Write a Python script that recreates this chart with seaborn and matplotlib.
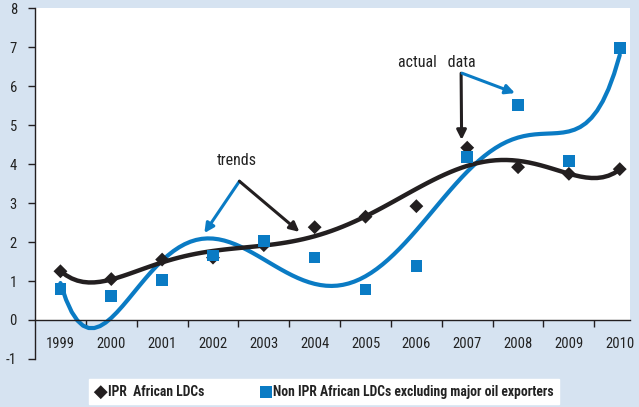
import numpy as np
import pandas as pd
import matplotlib
matplotlib.use("Agg")
import matplotlib.pyplot as plt
import seaborn as sns
from matplotlib.patches import Rectangle

years = [1999, 2000, 2001, 2002, 2003, 2004, 2005, 2006, 2007, 2008, 2009, 2010]
ipr = [1.25, 1.05, 1.55, 1.6, 1.92, 2.38, 2.65, 2.92, 4.42, 3.92, 3.75, 3.87]
non_ipr = [0.8, 0.62, 1.02, 1.65, 2.03, 1.6, 0.78, 1.38, 4.18, 5.52, 4.08, 6.98]
ipr_label = "IPR  African LDCs"
non_label = "Non IPR African LDCs excluding major oil exporters"

BG = "#d6e3f1"
BLUE = "#0a7bc4"
BLACK = "#231f20"

sns.set_style("ticks")
plt.rcParams['font.family'] = ['Roboto Condensed', 'Archivo Narrow', 'PT Sans Narrow',
                               'Liberation Sans Narrow', 'Liberation Sans', 'DejaVu Sans']
plt.rcParams['axes.unicode_minus'] = False

df = pd.DataFrame({"pos": np.arange(len(years)), "ipr": ipr, "non": non_ipr})

fig = plt.figure(figsize=(6.39, 4.07), dpi=100, facecolor=BG)
ax = fig.add_axes([0.0548, 0.118, 0.931, 0.862])
ax.set_facecolor(BG)
ax.set_xlim(-0.5, 11.2)
ax.set_ylim(-1, 8)
ax.add_patch(Rectangle((-0.5, 0), 11.7, 8, facecolor="white", edgecolor="none", zorder=0))

# trends (polynomial)
sns.regplot(data=df, x="pos", y="non", order=6, ci=None, scatter=False, truncate=True,
            line_kws=dict(color=BLUE, lw=3, zorder=2), ax=ax)
sns.regplot(data=df, x="pos", y="ipr", order=6, ci=None, scatter=False, truncate=True,
            line_kws=dict(color=BLACK, lw=3.2, zorder=3), ax=ax)
sns.scatterplot(data=df, x="pos", y="ipr", marker="D", s=50, color=BLACK, edgecolor="none",
                ax=ax, zorder=4, label=ipr_label)
sns.scatterplot(data=df, x="pos", y="non", marker="s", s=70, color=BLUE, edgecolor="none",
                ax=ax, zorder=5, label=non_label)

ax.set_xlabel("")
ax.set_ylabel("")
for s in ["top", "right"]:
    ax.spines[s].set_visible(False)
ax.spines["bottom"].set_position(("data", 0))
ax.spines["bottom"].set_color(BLACK)
ax.spines["left"].set_color(BLACK)
ax.spines["left"].set_linewidth(1.0)
ax.spines["bottom"].set_linewidth(1.0)

ax.set_yticks(range(-1, 9))
ax.tick_params(axis="y", length=5, width=1, colors=BLACK, labelcolor="#222222", labelsize=10.5, pad=8)
ax.set_xticks(np.arange(len(years)))
ax.set_xticklabels([str(y) for y in years])
ax.set_xticks(np.arange(0.5, 11, 1), minor=True)
ax.tick_params(axis="x", which="major", length=0, pad=12, labelsize=10.5, labelcolor="#222222")
ax.tick_params(axis="x", which="minor", length=5, width=1, colors=BLACK)

# annotations
ax.text(3.46, 4.1, "trends", ha="center", va="center", fontsize=11.5, color="#222222")
ax.annotate("", xy=(2.83, 2.23), xytext=(3.52, 3.56),
            arrowprops=dict(arrowstyle="-|>", color=BLUE, lw=2.2, mutation_scale=14, shrinkA=0, shrinkB=0))
ax.annotate("", xy=(4.70, 2.26), xytext=(3.52, 3.56),
            arrowprops=dict(arrowstyle="-|>", color=BLACK, lw=2.2, mutation_scale=14, shrinkA=0, shrinkB=0))
ax.text(7.4, 6.6, "actual   data", ha="center", va="center", fontsize=11.5, color="#222222")
ax.annotate("", xy=(7.89, 4.62), xytext=(7.88, 6.33),
            arrowprops=dict(arrowstyle="-|>", color=BLACK, lw=2.2, mutation_scale=14, shrinkA=0, shrinkB=0))
ax.annotate("", xy=(8.94, 5.82), xytext=(7.9, 6.33),
            arrowprops=dict(arrowstyle="-|>", color=BLUE, lw=2.2, mutation_scale=14, shrinkA=0, shrinkB=0))

handles, labels = ax.get_legend_handles_labels()
ax.get_legend().remove() if ax.get_legend() else None
leg = fig.legend(handles, labels, loc="upper center", bbox_to_anchor=(0.507, 0.068), ncol=2,
                 frameon=True, fancybox=False, framealpha=1, edgecolor="white", fontsize=9.8,
                 handletextpad=0.05, columnspacing=4.0, borderpad=0.4, handlelength=1.0,
                 borderaxespad=0)
for t in leg.get_texts():
    t.set_fontweight("bold")
    t.set_color("#222222")

fig.savefig("out.png", dpi=100, facecolor=BG)
